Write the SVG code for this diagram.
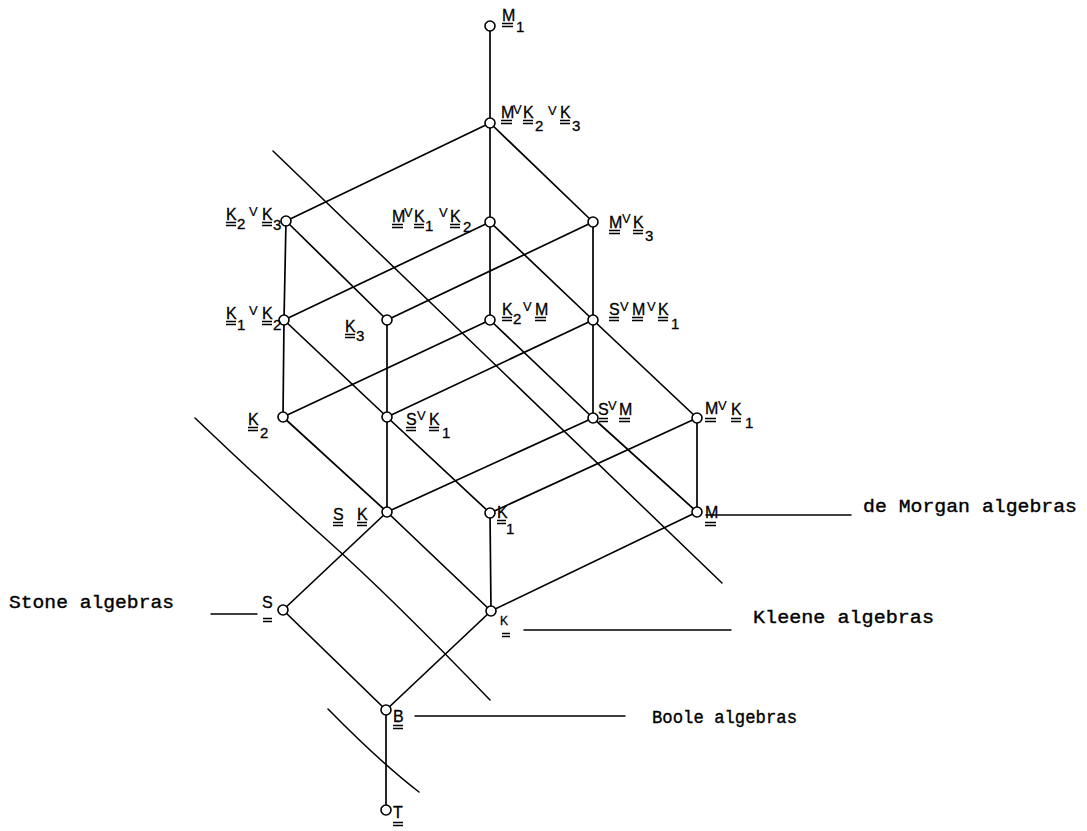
<svg xmlns="http://www.w3.org/2000/svg" width="1087" height="831" viewBox="0 0 1087 831">
<style>
.e{stroke:#000;stroke-width:1.7;fill:none;stroke-linecap:round}
.s{stroke:#000;stroke-width:1.5;fill:none;stroke-linecap:round;stroke-linejoin:round}
.n{fill:#fff;stroke:#000;stroke-width:1.6}
.l{font-family:"Liberation Sans Narrow","Liberation Sans",Arial,sans-serif;font-size:16px;fill:#000;stroke:#000;stroke-width:0.3}
.sub{font-family:"Liberation Sans Narrow","Liberation Sans",Arial,sans-serif;font-size:15px;fill:#000;stroke:#000;stroke-width:0.3}
.v{font-family:"Liberation Sans Narrow","Liberation Sans",Arial,sans-serif;font-size:13px;fill:#000;stroke:#000;stroke-width:0.2}
.u{stroke:#000;stroke-width:1.3;fill:none}
.t{font-family:"Liberation Mono","Courier New",monospace;font-size:18px;fill:#000;stroke:#000;stroke-width:0.35}
</style>
<rect width="1087" height="831" fill="#fff"/>
<g id="connectors">
<line class="e" x1="490" y1="26" x2="490" y2="123"/>
<line class="e" x1="490" y1="123" x2="286" y2="221"/>
<line class="e" x1="490" y1="123" x2="490" y2="222"/>
<line class="e" x1="490" y1="123" x2="593" y2="222"/>
<line class="e" x1="286" y1="221" x2="284" y2="320"/>
<line class="e" x1="286" y1="221" x2="387" y2="320"/>
<line class="e" x1="490" y1="222" x2="284" y2="320"/>
<line class="e" x1="490" y1="222" x2="490" y2="320"/>
<line class="e" x1="490" y1="222" x2="593" y2="320"/>
<line class="e" x1="593" y1="222" x2="387" y2="320"/>
<line class="e" x1="593" y1="222" x2="593" y2="320"/>
<line class="e" x1="284" y1="320" x2="283" y2="417"/>
<line class="e" x1="284" y1="320" x2="387" y2="417"/>
<line class="e" x1="387" y1="320" x2="387" y2="417"/>
<line class="e" x1="490" y1="320" x2="283" y2="417"/>
<line class="e" x1="490" y1="320" x2="593" y2="418"/>
<line class="e" x1="593" y1="320" x2="387" y2="417"/>
<line class="e" x1="593" y1="320" x2="697" y2="418"/>
<line class="e" x1="593" y1="320" x2="593" y2="418"/>
<line class="e" x1="283" y1="417" x2="387" y2="512"/>
<line class="e" x1="387" y1="417" x2="387" y2="512"/>
<line class="e" x1="387" y1="417" x2="490" y2="513"/>
<line class="e" x1="593" y1="418" x2="387" y2="512"/>
<line class="e" x1="593" y1="418" x2="697" y2="512"/>
<line class="e" x1="697" y1="418" x2="490" y2="513"/>
<line class="e" x1="697" y1="418" x2="697" y2="512"/>
<line class="e" x1="387" y1="512" x2="283" y2="610"/>
<line class="e" x1="387" y1="512" x2="491" y2="611"/>
<line class="e" x1="490" y1="513" x2="491" y2="611"/>
<line class="e" x1="697" y1="512" x2="491" y2="611"/>
<line class="e" x1="283" y1="610" x2="386" y2="710"/>
<line class="e" x1="491" y1="611" x2="386" y2="710"/>
<line class="e" x1="386" y1="710" x2="386" y2="810"/>
<line class="s" x1="273" y1="151" x2="722" y2="583"/>
<path class="s" d="M195,418 Q262,482 327,540 T490,700"/>
<path class="s" d="M328,709 Q380,762 419,792"/>
<line class="s" x1="706" y1="515" x2="851" y2="515"/>
<line class="s" x1="524" y1="630" x2="731" y2="630"/>
<line class="s" x1="415" y1="716" x2="625" y2="716"/>
<line class="s" x1="211" y1="614" x2="257" y2="614"/>
</g>
<g id="M1"><circle class="n" cx="490" cy="26" r="5"/><text class="l" x="502" y="21">M</text><text class="sub" x="516" y="32">1</text><path class="u" d="M502 23.5h11M502 26.5h11"/></g>
<g id="MvK2vK3"><circle class="n" cx="490" cy="123" r="5"/><text class="l" x="501" y="118">M</text><text class="v" x="513" y="114">V</text><text class="l" x="523" y="118">K</text><text class="sub" x="535" y="131">2</text><text class="v" x="548" y="115">V</text><text class="l" x="560" y="118">K</text><text class="sub" x="572" y="131">3</text><path class="u" d="M501 120.5h11M501 123.5h11M523 120.5h10M523 123.5h10M560 120.5h10M560 123.5h10"/></g>
<g id="K2vK3"><circle class="n" cx="286" cy="221" r="5"/><text class="l" x="226" y="220">K</text><text class="sub" x="237" y="229">2</text><text class="v" x="249" y="216">V</text><text class="l" x="262" y="220">K</text><text class="sub" x="273" y="230">3</text><path class="u" d="M226 222.5h10M226 225.5h10M262 222.5h10M262 225.5h10"/></g>
<g id="MvK1vK2"><circle class="n" cx="490" cy="222" r="5"/><text class="l" x="392" y="222">M</text><text class="v" x="404" y="217">V</text><text class="l" x="414" y="222">K</text><text class="sub" x="425" y="231">1</text><text class="v" x="439" y="217">V</text><text class="l" x="450" y="222">K</text><text class="sub" x="463" y="232">2</text><path class="u" d="M392 224.5h11M392 227.5h11M414 224.5h10M414 227.5h10M450 224.5h10M450 227.5h10"/></g>
<g id="MvK3"><circle class="n" cx="593" cy="222" r="5"/><text class="l" x="609" y="228">M</text><text class="v" x="622" y="223">V</text><text class="l" x="633" y="228">K</text><text class="sub" x="645" y="241">3</text><path class="u" d="M609 230.5h11M609 233.5h11M633 230.5h10M633 233.5h10"/></g>
<g id="K1vK2"><circle class="n" cx="284" cy="320" r="5"/><text class="l" x="226" y="319">K</text><text class="sub" x="237" y="330">1</text><text class="v" x="249" y="315">V</text><text class="l" x="262" y="319">K</text><text class="sub" x="273" y="330">2</text><path class="u" d="M226 321.5h10M226 324.5h10M262 321.5h10M262 324.5h10"/></g>
<g id="K3"><circle class="n" cx="387" cy="320" r="5"/><text class="l" x="345" y="332">K</text><text class="sub" x="356" y="341">3</text><path class="u" d="M345 334.5h10M345 337.5h10"/></g>
<g id="K2vM"><circle class="n" cx="490" cy="320" r="5"/><text class="l" x="502" y="315">K</text><text class="sub" x="513" y="324">2</text><text class="v" x="523" y="311">V</text><text class="l" x="535" y="315">M</text><path class="u" d="M502 317.5h10M502 320.5h10M535 317.5h11M535 320.5h11"/></g>
<g id="SvMvK1"><circle class="n" cx="593" cy="320" r="5"/><text class="l" x="609" y="315">S</text><text class="v" x="620" y="311">V</text><text class="l" x="632" y="315">M</text><text class="v" x="647" y="311">V</text><text class="l" x="658" y="315">K</text><text class="sub" x="671" y="329">1</text><path class="u" d="M609 317.5h10M609 320.5h10M632 317.5h11M632 320.5h11M658 317.5h10M658 320.5h10"/></g>
<g id="K2"><circle class="n" cx="283" cy="417" r="5"/><text class="l" x="248" y="425">K</text><text class="sub" x="260" y="438">2</text><path class="u" d="M248 427.5h10M248 430.5h10"/></g>
<g id="SvK1"><circle class="n" cx="387" cy="417" r="5"/><text class="l" x="406" y="425">S</text><text class="v" x="417" y="420">V</text><text class="l" x="429" y="425">K</text><text class="sub" x="442" y="438">1</text><path class="u" d="M406 427.5h10M406 430.5h10M429 427.5h10M429 430.5h10"/></g>
<g id="SvM"><circle class="n" cx="593" cy="418" r="5"/><text class="l" x="598" y="415">S</text><text class="v" x="608" y="410">V</text><text class="l" x="619" y="415">M</text><path class="u" d="M599 418.5h9M599 421.5h9M619 418.5h11M619 421.5h11"/></g>
<g id="MvK1"><circle class="n" cx="697" cy="418" r="5"/><text class="l" x="705" y="414">M</text><text class="v" x="718" y="410">V</text><text class="l" x="731" y="415">K</text><text class="sub" x="745" y="428">1</text><path class="u" d="M705 418.5h11M705 421.5h11M731 418.5h10M731 421.5h10"/></g>
<g id="SK"><circle class="n" cx="387" cy="512" r="5"/><text class="l" x="333" y="520">S</text><text class="l" x="357" y="520">K</text><path class="u" d="M333 522.5h10M333 525.5h10M357 522.5h10M357 525.5h10"/></g>
<g id="K1"><circle class="n" cx="490" cy="513" r="5"/><text class="l" x="497" y="518">K</text><text class="sub" x="506" y="534">1</text><path class="u" d="M497 520.5h9M497 523.5h9"/></g>
<g id="M"><circle class="n" cx="697" cy="512" r="5"/><text class="l" x="705" y="518">M</text><path class="u" d="M705 522.5h11M705 525.5h11"/></g>
<g id="S"><circle class="n" cx="283" cy="610" r="5"/><text class="l" x="262" y="608">S</text><path class="u" d="M263 618.5h9M263 621.5h9"/><text class="t" x="9" y="608" textLength="165" lengthAdjust="spacingAndGlyphs">Stone algebras</text></g>
<g id="K"><circle class="n" cx="491" cy="611" r="5"/><text class="l" x="500" y="625" style="font-size:12px">K</text><path class="u" d="M502 633.5h8M502 636.5h8"/><text class="t" x="753" y="623" textLength="181" lengthAdjust="spacingAndGlyphs">Kleene algebras</text></g>
<g id="B"><circle class="n" cx="386" cy="710" r="5"/><text class="l" x="393" y="722">B</text><path class="u" d="M393 725.5h10M393 728.5h10"/><text class="t" x="652" y="723" textLength="145" lengthAdjust="spacingAndGlyphs">Boole algebras</text></g>
<g id="T"><circle class="n" cx="386" cy="810" r="5"/><text class="l" x="393" y="818">T</text><path class="u" d="M393 822.5h10M393 825.5h10"/></g>
<g id="deMorgan"><text class="t" x="863" y="512" textLength="214" lengthAdjust="spacingAndGlyphs">de Morgan algebras</text></g>
</svg>
